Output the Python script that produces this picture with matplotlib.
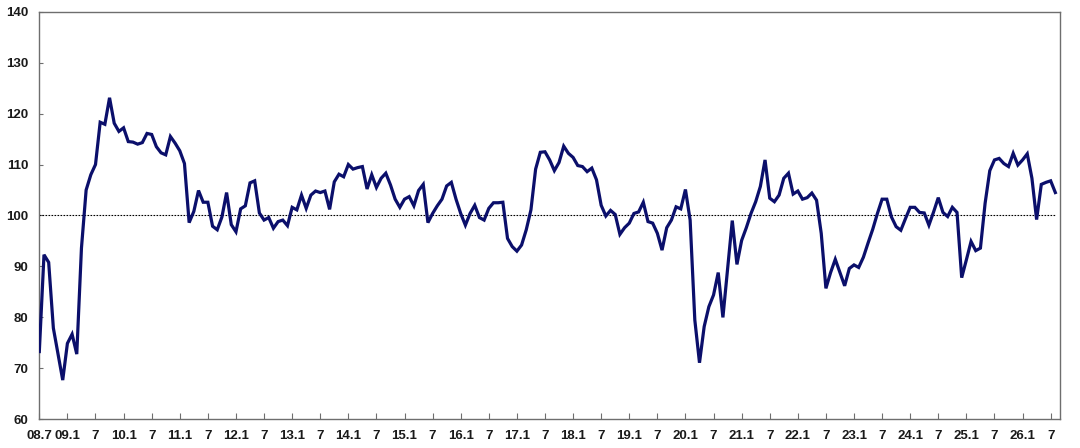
import matplotlib
matplotlib.use("Agg")
import matplotlib.pyplot as plt
import numpy as np

# Monthly index values, 2008.7 onward
values = [
    73.3, 92.3, 90.8, 77.9, 72.8, 67.7, 74.9, 76.7, 72.8, 93.6,
    105.0, 108.0, 110.0, 118.3, 117.9, 123.1, 118.1, 116.5, 117.2, 114.5,
    114.4, 114.0, 114.3, 116.1, 115.9, 113.5, 112.3, 111.9, 115.5, 114.2,
    112.7, 110.2, 98.6, 100.8, 104.9, 102.6, 102.6, 97.9, 97.2, 99.7,
    104.5, 98.2, 96.8, 101.3, 101.9, 106.4, 106.8, 100.5, 99.1, 99.6,
    97.5, 98.8, 99.1, 98.0, 101.6, 101.1, 104.0, 101.4, 104.0, 104.8,
    104.5, 104.8, 101.2, 106.6, 108.1, 107.6, 110.0, 109.1, 109.4,
    109.6, 105.2, 108.0, 105.5, 107.3, 108.3, 106.0, 103.2, 101.6, 103.2,
    103.7, 101.9, 104.9, 106.1, 98.6, 100.4, 101.9, 103.2, 105.8, 106.5,
    103.2, 100.4, 98.1, 100.4, 102.0, 99.6, 99.1, 101.4, 102.5, 102.5,
    102.6, 95.5, 93.9, 93.0, 94.2, 97.2, 101.1, 109.1, 112.4, 112.5,
    110.9, 108.8, 110.4, 113.6, 112.2, 111.4, 109.8, 109.6, 108.6, 109.3,
    107.0, 102.0, 99.9, 101.0, 100.2, 96.3, 97.6, 98.5, 100.4, 100.7,
    102.6, 98.8, 98.5, 96.5, 93.2, 97.6, 99.1, 101.7, 101.3, 105.1,
    99.1, 79.5, 71.1, 78.2, 82.1, 84.4, 88.8, 80.0, 89.5, 99.0,
    90.4, 95.1, 97.6, 100.4, 102.7, 105.7, 110.9, 103.4, 102.7, 104.0,
    107.3, 108.3, 104.2, 104.8, 103.2, 103.5, 104.4, 103.0, 96.5, 85.7,
    88.8, 91.4, 88.8, 86.2, 89.6, 90.3, 89.8, 91.8, 94.6, 97.3,
    100.4, 103.2, 103.2, 99.7, 97.8, 97.1, 99.4, 101.6, 101.6, 100.6,
    100.5, 98.1, 100.7, 103.5, 100.6, 99.8, 101.6, 100.6, 87.8, 91.3,
    94.9, 93.1, 93.6, 102.4, 108.8, 110.9, 111.2, 110.2, 109.6, 112.2,
    109.9, 110.9, 112.1, 107.3, 99.2, 106.1, 106.5, 106.8, 104.5,
]

start_year = 2008
start_month = 7
baseline = 100
y_ticks = [60, 70, 80, 90, 100, 110, 120, 130, 140]

x = np.arange(len(values))

# x tick positions every 6 months with labels
tick_pos = list(range(0, 217, 6))
tick_labels = []
for m in tick_pos:
    total = (start_month - 1) + m
    yr = start_year + total // 12
    mo = total % 12 + 1
    if m == 0 or mo == 1:
        tick_labels.append(f"{yr % 100:02d}.{mo}")
    else:
        tick_labels.append(f"{mo}")

fig = plt.figure(figsize=(10.8, 4.48), dpi=100)
ax = fig.add_axes([0.0364, 0.064, 0.9451, 0.910])

ax.plot([0, len(values) - 1], [baseline, baseline], color="black",
        linewidth=0.8, linestyle=(0, (1.5, 1.2)), zorder=2)
ax.plot(x, values, color="#0b0f6b", linewidth=2.3, zorder=3,
        solid_joinstyle="miter")

ax.set_xlim(0, 218)
ax.set_ylim(60, 140)
ax.set_yticks(y_ticks)
ax.set_xticks(tick_pos)
ax.set_xticklabels(tick_labels)

for s in ax.spines.values():
    s.set_color("#6e6e6e")
    s.set_linewidth(1.0)

ax.tick_params(axis="x", direction="in", length=4, width=0.8, color="#6e6e6e",
               pad=8, labelsize=9.5, labelcolor="#1a1a1a")
ax.tick_params(axis="y", direction="in", length=3, width=0.8, color="#6e6e6e",
               pad=8, labelsize=9.5, labelcolor="#1a1a1a")
for lab in ax.get_xticklabels() + ax.get_yticklabels():
    lab.set_fontweight("bold")
    lab.set_family(["Liberation Sans", "DejaVu Sans"])

fig.savefig("out.png", dpi=100, facecolor="white")
